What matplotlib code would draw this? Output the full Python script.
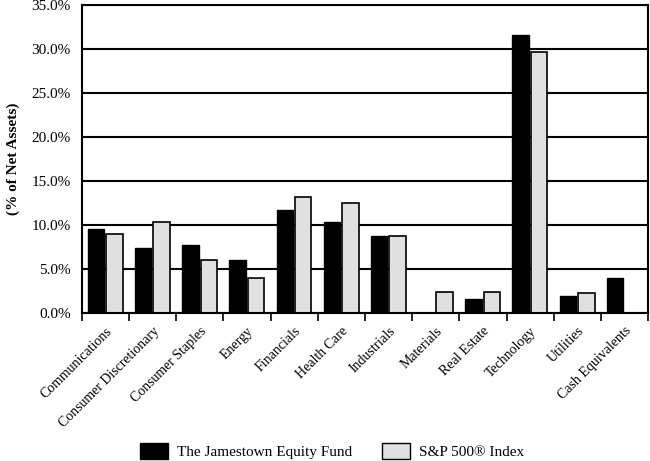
import numpy as np
import matplotlib
matplotlib.use("Agg")
import matplotlib.pyplot as plt
from matplotlib.patches import Patch

categories = ["Communications", "Consumer Discretionary", "Consumer Staples", "Energy",
              "Financials", "Health Care", "Industrials", "Materials", "Real Estate",
              "Technology", "Utilities", "Cash Equivalents"]
fund = [9.6, 7.4, 7.8, 6.1, 11.7, 10.4, 8.8, 0.0, 1.6, 31.6, 2.0, 4.0]
sp500 = [9.0, 10.4, 6.1, 4.0, 13.2, 12.5, 8.8, 2.45, 2.4, 29.6, 2.3, 0.0]
yticks = [0, 5, 10, 15, 20, 25, 30, 35]

plt.rcParams["font.family"] = ["Liberation Serif", "DejaVu Serif"]

fig = plt.figure(figsize=(6.5, 4.61), dpi=100)
ax = fig.add_axes([0.126, 0.320, 0.871, 0.670])

x = np.arange(len(categories))
w = 0.35
ax.set_axisbelow(True)
ax.yaxis.grid(True, color="black", linewidth=1.5)
for xi, v in zip(x, fund):
    if v > 0:
        ax.bar(xi - 0.2, v, w, color="black", edgecolor="black", linewidth=1)
for xi, v in zip(x, sp500):
    if v > 0:
        ax.bar(xi + 0.19, v, w, color="#e0e0e0", edgecolor="black", linewidth=1.2)

ax.set_xlim(-0.5, len(categories) - 0.5)
ax.set_ylim(0, 35)
ax.set_yticks(yticks)
ax.set_yticklabels([f"{t:.1f}%" for t in yticks], fontsize=11)
ax.tick_params(axis="y", length=0, pad=8)

# ticks at category boundaries, labels at centres
ax.set_xticks(np.arange(len(categories) + 1) - 0.5)
ax.set_xticklabels([])
ax.tick_params(axis="x", which="major", length=6, width=1.2, direction="out")
ax.set_xticks(x, minor=True)
ax.set_xticklabels(categories, minor=True, rotation=45, ha="right", va="top",
                   rotation_mode="anchor", fontsize=10)
ax.tick_params(axis="x", which="minor", length=0, pad=8)

for s in ax.spines.values():
    s.set_linewidth(1.5)
    s.set_color("black")

ax.set_ylabel("(% of Net Assets)", fontsize=11, fontweight="bold", labelpad=8)

handles = [Patch(facecolor="black", edgecolor="black"),
           Patch(facecolor="#e0e0e0", edgecolor="black")]
fig.legend(handles, ["The Jamestown Equity Fund", "S&P 500® Index"],
           loc="center", bbox_to_anchor=(0.511, 0.022), ncol=2, frameon=False,
           fontsize=11, handlelength=1.8, handleheight=1.25, handletextpad=0.6,
           columnspacing=2.0)

fig.savefig("out.png", dpi=100)
